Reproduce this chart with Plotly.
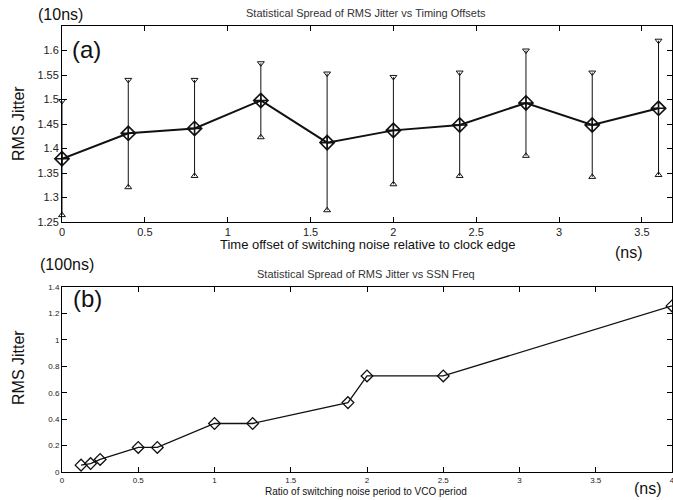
import plotly.graph_objects as go

# ---- Data: panel (a) ----
offsets = [0.0, 0.4, 0.8, 1.2, 1.6, 2.0, 2.4, 2.8, 3.2, 3.6]
jitter_mean = [1.379, 1.431, 1.441, 1.498, 1.412, 1.437, 1.448, 1.493, 1.448, 1.482]
jitter_upper = [1.497, 1.540, 1.540, 1.574, 1.553, 1.546, 1.555, 1.600, 1.555, 1.620]
jitter_lower = [1.264, 1.321, 1.344, 1.423, 1.274, 1.327, 1.344, 1.385, 1.342, 1.346]

# ---- Data: panel (b) ----
ratio = [0.125, 0.1875, 0.25, 0.5, 0.625, 1.0, 1.25, 1.875, 2.0, 2.5, 4.0]
jitter_b = [0.052, 0.064, 0.095, 0.186, 0.186, 0.367, 0.367, 0.525, 0.727, 0.727, 1.257]

W, H = 673, 500
def px(x):
    return x / W
def py(y):
    return 1 - y / H

err_plus = [u - m for u, m in zip(jitter_upper, jitter_mean)]
err_minus = [m - l for m, l in zip(jitter_mean, jitter_lower)]

fig = go.Figure()

# error bars (a)
fig.add_trace(go.Scatter(
    x=offsets, y=jitter_mean, mode="markers",
    marker=dict(size=0.1, color="rgba(0,0,0,0)"),
    error_y=dict(type="data", symmetric=False, array=err_plus, arrayminus=err_minus,
                 color="#111", thickness=1, width=0),
    xaxis="x", yaxis="y", showlegend=False, hoverinfo="skip", cliponaxis=False))
fig.add_trace(go.Scatter(
    x=offsets, y=jitter_upper, mode="markers",
    marker=dict(symbol="triangle-down-open", size=6, color="#111", line=dict(width=1)),
    xaxis="x", yaxis="y", showlegend=False, cliponaxis=False))
fig.add_trace(go.Scatter(
    x=offsets, y=jitter_lower, mode="markers",
    marker=dict(symbol="triangle-up-open", size=6, color="#111", line=dict(width=1)),
    xaxis="x", yaxis="y", showlegend=False, cliponaxis=False))
fig.add_trace(go.Scatter(
    x=offsets, y=jitter_mean, mode="lines+markers",
    line=dict(color="#111", width=2),
    marker=dict(symbol="diamond-cross-open", size=11, color="#111", line=dict(width=1.6)),
    xaxis="x", yaxis="y", showlegend=False, cliponaxis=False))

# panel (b)
fig.add_trace(go.Scatter(
    x=ratio, y=jitter_b, mode="lines+markers",
    line=dict(color="#111", width=1.3),
    marker=dict(symbol="diamond-open", size=9, color="#111", line=dict(width=1.3)),
    xaxis="x2", yaxis="y2", showlegend=False, cliponaxis=False))

axis_common = dict(showline=True, linecolor="black", linewidth=1, mirror="ticks",
                   ticks="inside", ticklen=5, tickcolor="black", showgrid=False,
                   zeroline=False, automargin=False, ticklabeloverflow="allow")

x0, x1 = 62, 672
fig.update_layout(
    width=W, height=H,
    margin=dict(l=0, r=0, t=0, b=0, autoexpand=False),
    paper_bgcolor="white", plot_bgcolor="white",
    font=dict(family="Liberation Sans, Arial, sans-serif", color="#222"),
    xaxis=dict(domain=[px(x0), px(x1)], range=[0, (x1 - x0) / 165.7],
               tickvals=[0, 0.5, 1, 1.5, 2, 2.5, 3, 3.5],
               ticktext=["0", "0.5", "1", "1.5", "2", "2.5", "3", "3.5"],
               tickfont=dict(size=11), anchor="y", **axis_common),
    yaxis=dict(domain=[py(222), py(26)], range=[1.25, 1.65],
               tickvals=[1.25, 1.3, 1.35, 1.4, 1.45, 1.5, 1.55, 1.6],
               ticktext=["1.25", "1.3", "1.35", "1.4", "1.45", "1.5", "1.55", "1.6"],
               tickfont=dict(size=11), anchor="x", **axis_common),
    xaxis2=dict(domain=[px(x0), px(x1)], range=[0, 4],
                tickvals=[0, 0.5, 1, 1.5, 2, 2.5, 3, 3.5, 4],
                ticktext=["0", "0.5", "1", "1.5", "2", "2.5", "3", "3.5", "4"],
                tickfont=dict(size=8), anchor="y2", **axis_common),
    yaxis2=dict(domain=[py(472), py(287)], range=[0, 1.4],
                tickvals=[0, 0.2, 0.4, 0.6, 0.8, 1, 1.2, 1.4],
                ticktext=["0", "0.2", "0.4", "0.6", "0.8", "1", "1.2", "1.4"],
                tickfont=dict(size=8), anchor="x2", **axis_common),
)

def ann(text, x, y, size, angle=0, color="#111", xanchor="center"):
    fig.add_annotation(text=text, x=px(x), y=py(y), xref="paper", yref="paper",
                       showarrow=False, font=dict(size=size, color=color),
                       textangle=angle, xanchor=xanchor, yanchor="middle")

ann("Statistical Spread of RMS Jitter vs Timing Offsets", 366, 13, 11, color="#333")
ann("(10ns)", 60, 14, 16)
ann("(a)", 86, 50, 24)
ann("RMS Jitter", 18, 124, 16, angle=-90)
ann("Time offset of switching noise relative to clock edge", 368, 244, 13)
ann("(ns)", 629, 252, 16)

ann("Statistical Spread of RMS Jitter vs SSN Freq", 366, 274, 11, color="#333")
ann("(100ns)", 67, 264, 16)
ann("(b)", 87, 298, 24)
ann("RMS Jitter", 18, 368, 16, angle=-90)
ann("Ratio of switching noise period to VCO period", 366, 491, 10)
ann("(ns)", 648, 488, 16)

fig.write_html("out.html", config={"displayModeBar": False},
               post_script="document.body.style.margin='0';document.body.style.overflow='hidden';")
